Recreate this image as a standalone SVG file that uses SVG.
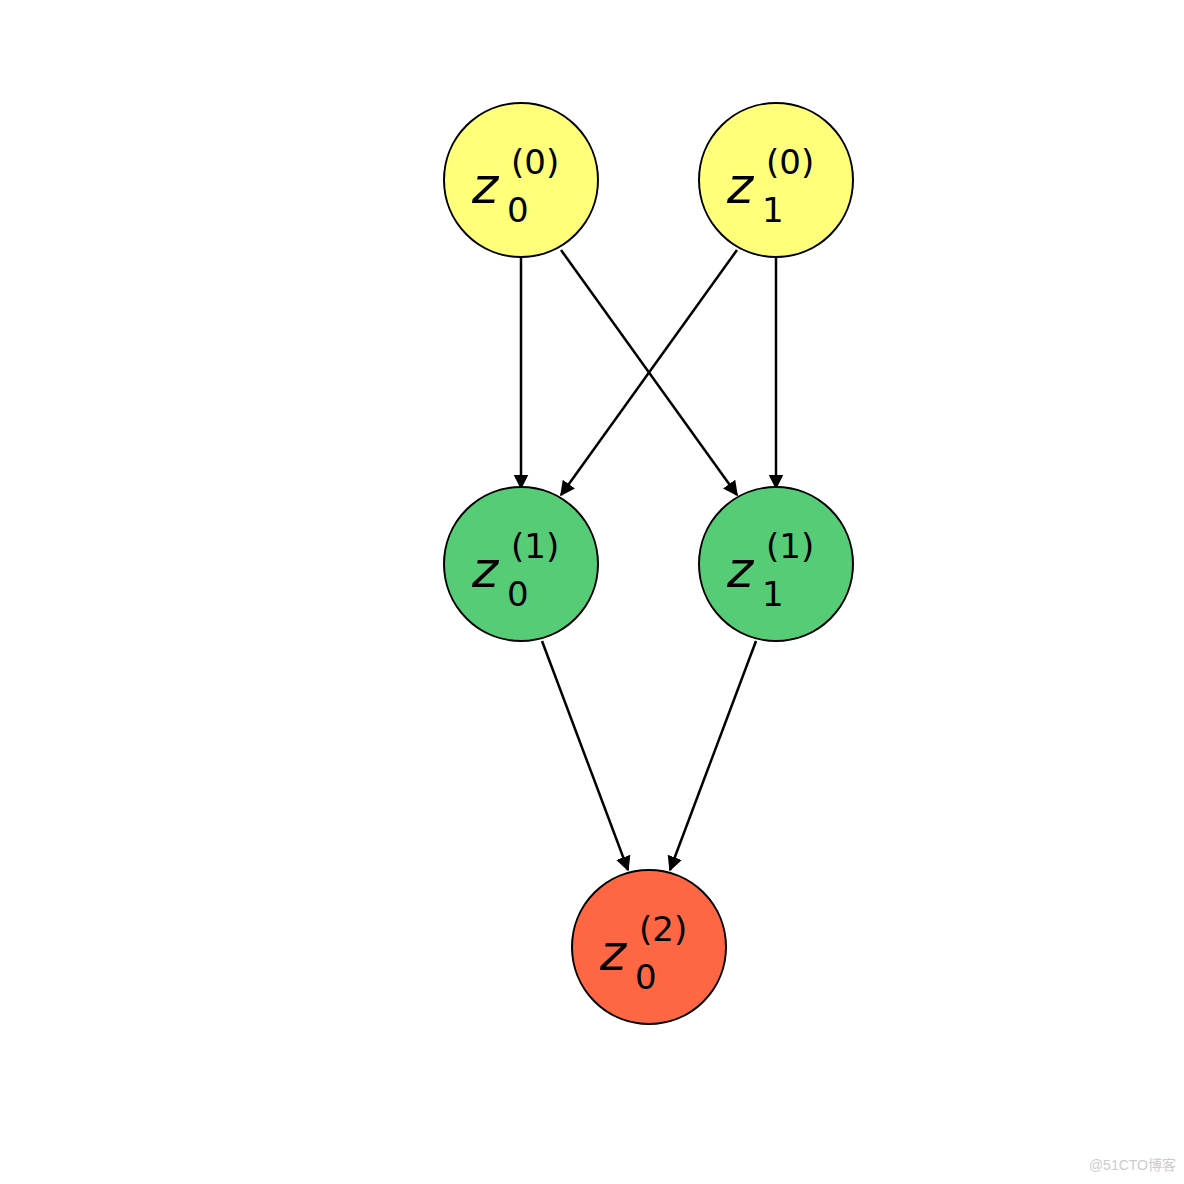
<svg xmlns="http://www.w3.org/2000/svg" width="1184" height="1184" viewBox="0 0 1184 1184">
<style>
.n{stroke:#000;stroke-width:2}
.y{fill:#ffff7a}.g{fill:#57cc77}.r{fill:#ff6644}
.z{font-family:"DejaVu Sans",sans-serif;font-style:italic;font-size:50px;fill:#000}
.s{font-family:"DejaVu Sans",sans-serif;font-size:34px;fill:#000}
.e{stroke:#000;stroke-width:2.5;fill:none;marker-end:url(#a)}
</style>
<defs><marker id="a" viewBox="0 0 10 10" refX="10" refY="5" markerWidth="7" markerHeight="7" markerUnits="userSpaceOnUse" orient="auto"><path d="M0,0L10,5L0,10z" fill="#000"/></marker>
<marker id="b" viewBox="0 0 10 10" refX="9" refY="5" markerWidth="6" markerHeight="7" orient="auto"><path d="M0,0L10,5L0,10z" fill="#000"/></marker></defs>
<rect width="1184" height="1184" fill="#fff"/>
<g id="edges" stroke="#000" stroke-width="2.5" fill="none" marker-end="url(#b)">
<path d="M521,258V488"/>
<path d="M561,250L737,495"/>
<path d="M737,250L561,495"/>
<path d="M776,258V488"/>
<path d="M542,641L628,870"/>
<path d="M756,641L670,870"/>
</g>
<g id="z00"><circle class="n y" cx="521" cy="180" r="77"/><text class="z" x="472" y="203">z</text><text class="s" x="507" y="222">0</text><text class="s" x="511" y="174">(0)</text></g>
<g id="z10"><circle class="n y" cx="776" cy="180" r="77"/><text class="z" x="727" y="203">z</text><text class="s" x="762" y="222">1</text><text class="s" x="766" y="174">(0)</text></g>
<g id="z01"><circle class="n g" cx="521" cy="564" r="77"/><text class="z" x="472" y="587">z</text><text class="s" x="507" y="606">0</text><text class="s" x="511" y="558">(1)</text></g>
<g id="z11"><circle class="n g" cx="776" cy="564" r="77"/><text class="z" x="727" y="587">z</text><text class="s" x="762" y="606">1</text><text class="s" x="766" y="558">(1)</text></g>
<g id="z02"><circle class="n r" cx="649" cy="947" r="77"/><text class="z" x="600" y="970">z</text><text class="s" x="635" y="989">0</text><text class="s" x="639" y="941">(2)</text></g>
<text x="1176" y="1170" text-anchor="end" font-family="'Liberation Sans','Noto Sans CJK SC',sans-serif" font-size="14" fill="#ccc">@51CTO博客</text>
</svg>
